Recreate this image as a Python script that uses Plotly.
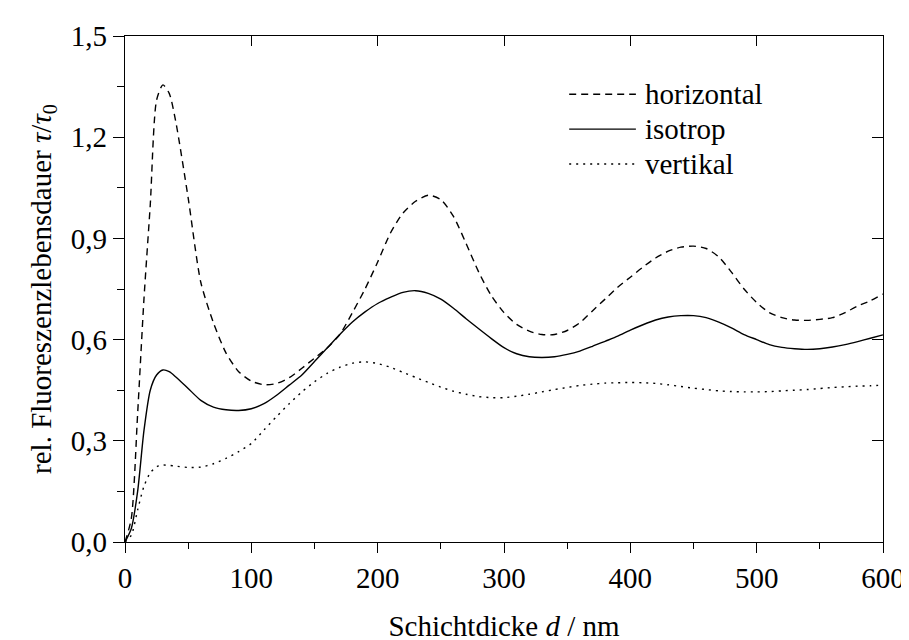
import plotly.graph_objects as go

d_nm = [0, 5, 10, 15, 20, 25, 30, 35, 40, 50, 60, 70, 80, 90, 100, 110, 120, 130, 140, 150,
        160, 170, 180, 190, 200, 210, 220, 230, 240, 250, 260, 270, 280, 290, 300, 310, 320,
        330, 340, 350, 360, 370, 380, 390, 400, 410, 420, 430, 440, 450, 460, 470, 480, 490,
        500, 510, 520, 530, 540, 550, 560, 570, 580, 590, 600]

horizontal = [0, 0.07, 0.38, 0.72, 1.0, 1.31, 1.355, 1.33, 1.25, 1.02, 0.77, 0.65, 0.56, 0.505, 0.477,
              0.466, 0.47, 0.487, 0.515, 0.545, 0.575, 0.615, 0.68, 0.75, 0.83, 0.915, 0.975, 1.01, 1.028,
              1.015, 0.965, 0.885, 0.80, 0.73, 0.68, 0.645, 0.625, 0.615, 0.615, 0.627, 0.65, 0.685, 0.72,
              0.755, 0.785, 0.815, 0.842, 0.862, 0.874, 0.877, 0.87, 0.845, 0.80, 0.75, 0.71, 0.68,
              0.665, 0.658, 0.657, 0.66, 0.665, 0.68, 0.70, 0.715, 0.735]

isotrop = [0, 0.04, 0.15, 0.33, 0.45, 0.495, 0.51, 0.505, 0.49, 0.455, 0.42, 0.40, 0.392, 0.39, 0.395,
           0.41, 0.435, 0.465, 0.495, 0.535, 0.575, 0.615, 0.652, 0.682, 0.707, 0.725, 0.74, 0.745, 0.737,
           0.72, 0.693, 0.662, 0.632, 0.603, 0.576, 0.558, 0.549, 0.547, 0.549, 0.556, 0.566, 0.58,
           0.595, 0.61, 0.628, 0.644, 0.658, 0.667, 0.671, 0.671, 0.665, 0.652, 0.635, 0.615, 0.60,
           0.585, 0.577, 0.573, 0.571, 0.573, 0.578, 0.585, 0.594, 0.604, 0.614]

vertikal = [0, 0.02, 0.095, 0.165, 0.205, 0.223, 0.228, 0.227, 0.225, 0.221, 0.222, 0.232, 0.248, 0.268,
            0.292, 0.332, 0.372, 0.41, 0.445, 0.475, 0.5, 0.518, 0.53, 0.534, 0.529, 0.518, 0.503, 0.488,
            0.473, 0.459, 0.447, 0.438, 0.431, 0.428, 0.428, 0.432, 0.438, 0.445, 0.452, 0.458, 0.464,
            0.468, 0.471, 0.472, 0.473, 0.472, 0.47, 0.466, 0.461, 0.456, 0.452, 0.448, 0.446, 0.445,
            0.445, 0.446, 0.448, 0.45, 0.452, 0.455, 0.458, 0.46, 0.462, 0.463, 0.465]

series_names = ["horizontal", "isotrop", "vertikal"]
x_ticks = [0, 100, 200, 300, 400, 500, 600]
y_ticks = [0.0, 0.3, 0.6, 0.9, 1.2, 1.5]

FONT = "'Liberation Serif', 'Times New Roman', Tinos, Times, serif"
FS = 29
dashes = ["7px,5px", "solid", "2px,5px"]
series = [horizontal, isotrop, vertikal]

fig = go.Figure()
for name, ys, dash in zip(series_names, series, dashes):
    fig.add_trace(go.Scatter(x=d_nm, y=ys, mode="lines", name=name, showlegend=False,
                             line=dict(color="black", width=1.4, dash=dash, shape="spline",
                                       smoothing=0.7)))

# empty trace to activate the mirrored top/right axes
fig.add_trace(go.Scatter(x=[], y=[], xaxis="x2", yaxis="y2", showlegend=False, hoverinfo="skip"))

fig.update_layout(
    width=909, height=640,
    margin=dict(l=117, r=24, t=21, b=97),
    plot_bgcolor="white", paper_bgcolor="white",
    separators=", ",
    font=dict(family=FONT, size=FS, color="black"),
    showlegend=False,
    xaxis=dict(
        range=[0, 600], tickvals=x_ticks, ticktext=[str(v) for v in x_ticks],
        showline=True, linecolor="black", linewidth=1.3,
        ticks="outside", ticklen=10, tickwidth=1.2, tickcolor="black",
        minor=dict(dtick=50, tick0=0, ticks="outside", ticklen=6, tickcolor="black", tickwidth=1.2),
        showgrid=False, zeroline=False,
        tickfont=dict(family=FONT, size=FS, color="black"),
        title=dict(text="Schichtdicke <i>d</i> / nm", font=dict(family=FONT, size=FS, color="black"),
                   standoff=22),
    ),
    yaxis=dict(
        range=[0, 1.5], tickvals=y_ticks, tickformat=".1f",
        showline=True, linecolor="black", linewidth=1.3,
        ticks="outside", ticklen=11, tickwidth=1.2, tickcolor="black",
        minor=dict(dtick=0.15, tick0=0, ticks="outside", ticklen=7, tickcolor="black", tickwidth=1.2),
        showgrid=False, zeroline=False,
        tickfont=dict(family=FONT, size=FS, color="black"),
        title=dict(text="rel. Fluoreszenzlebensdauer <i>τ</i>/<i>τ</i><sub>0</sub>",
                   font=dict(family=FONT, size=FS, color="black"), standoff=10),
    ),
    xaxis2=dict(
        range=[0, 600], overlaying="x", side="top", tickvals=x_ticks, showticklabels=False,
        showline=True, linecolor="black", linewidth=1.3,
        ticks="inside", ticklen=10, tickwidth=1.2, tickcolor="black",
        showgrid=False, zeroline=False,
    ),
    yaxis2=dict(
        range=[0, 1.5], overlaying="y", side="right", tickvals=y_ticks, showticklabels=False,
        showline=True, linecolor="black", linewidth=1.3,
        ticks="inside", ticklen=11, tickwidth=1.2, tickcolor="black",
        showgrid=False, zeroline=False,
    ),
)

# legend drawn as samples + labels (paper coordinates)
leg_y = [0.885, 0.816, 0.747]
for name, dash, yy in zip(series_names, dashes, leg_y):
    fig.add_shape(type="line", xref="paper", yref="paper", x0=0.586, x1=0.674, y0=yy, y1=yy,
                  line=dict(color="black", width=1.4, dash=dash))
    fig.add_annotation(xref="paper", yref="paper", x=0.683, y=yy, xanchor="left", yanchor="middle",
                       text=name, showarrow=False, font=dict(family=FONT, size=FS, color="black"))

fig.write_html("out.html")
